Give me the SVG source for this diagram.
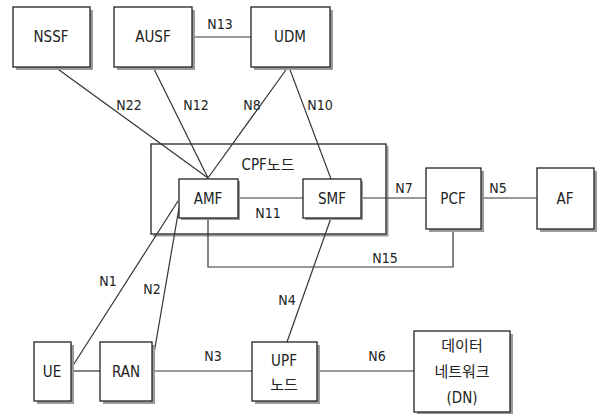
<svg xmlns="http://www.w3.org/2000/svg" width="597" height="414" viewBox="0 0 597 414">
<style>
.box{fill:#fff;stroke:#222;stroke-width:1.3}
.sh{fill:#9a9a9a}
.ln{stroke:#333;stroke-width:1.2;fill:none}
text{font-family:"DejaVu Sans Condensed","DejaVu Sans","Noto Sans CJK KR",sans-serif;font-size:15px;fill:#222;text-anchor:middle}
.lb{font-size:14px}
</style>
<rect width="597" height="414" fill="#fff"/>
<g id="CPF">
<path d="M153,235.5 H387.5 V146" fill="none" stroke="#9a9a9a" stroke-width="2"/>
<rect x="151" y="144" width="235" height="90" fill="none" stroke="#222" stroke-width="1.3"/>
<text x="268" y="170">CPF노드</text>
</g>
<g id="connectors">
<line class="ln" x1="192" y1="37" x2="251" y2="37"/>
<line class="ln" x1="55" y1="67" x2="208" y2="178"/>
<line class="ln" x1="153" y1="67" x2="208" y2="178"/>
<line class="ln" x1="288" y1="67" x2="208" y2="178"/>
<line class="ln" x1="289" y1="67" x2="331" y2="179"/>
<line class="ln" x1="238" y1="198" x2="303" y2="198"/>
<line class="ln" x1="361" y1="198" x2="426" y2="198"/>
<line class="ln" x1="481" y1="198" x2="537" y2="198"/>
<polyline class="ln" points="208,218 208,267 453,267 453,229"/>
<line class="ln" x1="331" y1="218" x2="287" y2="342"/>
<line class="ln" x1="72" y1="367" x2="178" y2="201"/>
<line class="ln" x1="152" y1="365" x2="179" y2="208"/>
<line class="ln" x1="71" y1="371" x2="100" y2="371"/>
<line class="ln" x1="152" y1="371" x2="252" y2="371"/>
<line class="ln" x1="317" y1="371" x2="414" y2="371"/>
<text class="lb" x="220" y="29">N13</text>
<text class="lb" x="129" y="110">N22</text>
<text class="lb" x="196" y="110">N12</text>
<text class="lb" x="252" y="110">N8</text>
<text class="lb" x="320" y="110">N10</text>
<text class="lb" x="268" y="218">N11</text>
<text class="lb" x="404" y="193">N7</text>
<text class="lb" x="498" y="193">N5</text>
<text class="lb" x="385" y="263">N15</text>
<text class="lb" x="108" y="286">N1</text>
<text class="lb" x="152" y="294">N2</text>
<text class="lb" x="287" y="305">N4</text>
<text class="lb" x="213" y="361">N3</text>
<text class="lb" x="377" y="361">N6</text>
</g>
<g id="NSSF"><rect class="sh" x="16" y="10" width="77" height="60"/><rect class="box" x="13" y="7" width="77" height="60"/><text x="51" y="42">NSSF</text></g>
<g id="AUSF"><rect class="sh" x="117" y="10" width="78" height="60"/><rect class="box" x="114" y="7" width="78" height="60"/><text x="153" y="42">AUSF</text></g>
<g id="UDM"><rect class="sh" x="254" y="10" width="79" height="60"/><rect class="box" x="251" y="7" width="79" height="60"/><text x="290" y="42">UDM</text></g>
<g id="AMF"><rect class="sh" x="181" y="181" width="59" height="39"/><rect class="box" x="179" y="179" width="59" height="39"/><text x="208" y="204">AMF</text></g>
<g id="SMF"><rect class="sh" x="305" y="181" width="58" height="39"/><rect class="box" x="303" y="179" width="58" height="39"/><text x="332" y="204">SMF</text></g>
<g id="PCF"><rect class="sh" x="429" y="171" width="55" height="61"/><rect class="box" x="426" y="168" width="55" height="61"/><text x="453" y="204">PCF</text></g>
<g id="AF"><rect class="sh" x="540" y="171" width="57" height="61"/><rect class="box" x="537" y="168" width="57" height="61"/><text x="565" y="204">AF</text></g>
<g id="UE"><rect class="sh" x="37" y="345" width="37" height="59"/><rect class="box" x="34" y="342" width="37" height="59"/><text x="52" y="377">UE</text></g>
<g id="RAN"><rect class="sh" x="103" y="345" width="52" height="59"/><rect class="box" x="100" y="342" width="52" height="59"/><text x="126" y="377">RAN</text></g>
<g id="UPF"><rect class="sh" x="255" y="345" width="65" height="59"/><rect class="box" x="252" y="342" width="65" height="59"/><text x="284" y="366">UPF</text><text x="284" y="390">노드</text></g>
<g id="DN"><rect class="sh" x="417" y="334" width="96" height="81"/><rect class="box" x="414" y="331" width="96" height="81"/><text x="462" y="351">데이터</text><text x="462" y="377">네트워크</text><text x="462" y="403">(DN)</text></g>
</svg>
